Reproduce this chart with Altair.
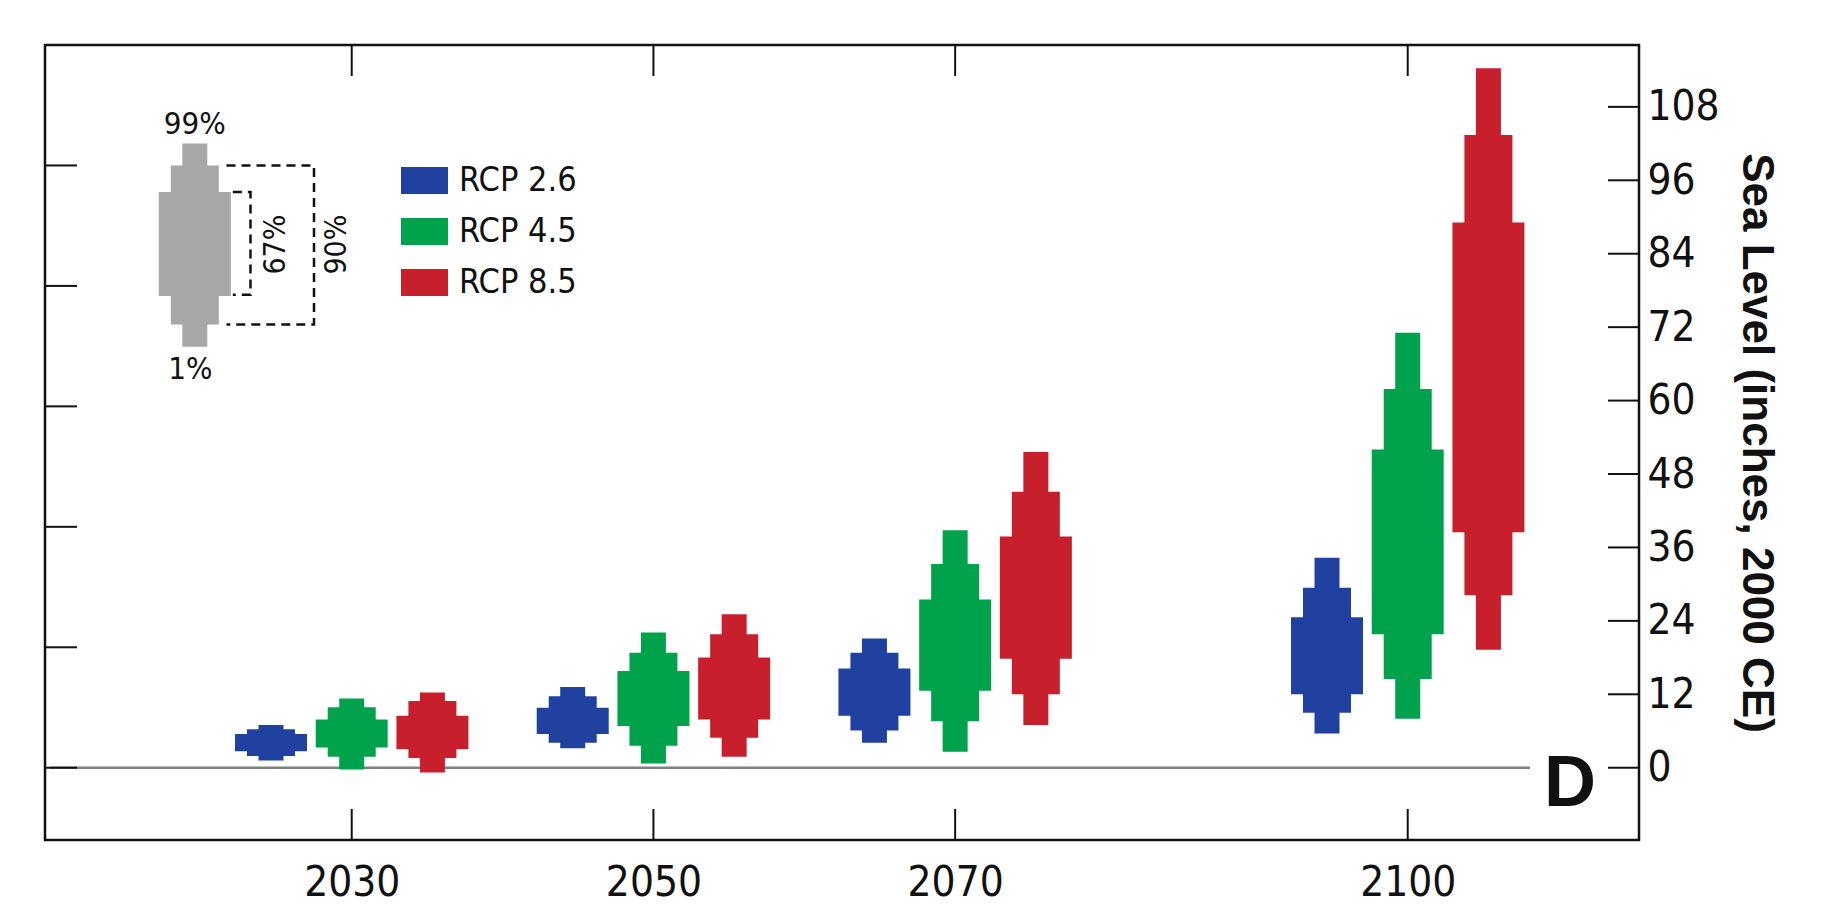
import altair as alt
import pandas as pd

# ---------------- data (inches, relative to 2000 CE) ----------------
years = [2030, 2050, 2070, 2100]
series = ["RCP 2.6", "RCP 4.5", "RCP 8.5"]
colors = ["#2141a0", "#00a24b", "#c81f2d"]

# percentiles per scenario, one value per year
rcp26_p1 = [1.2, 3.2, 4.1, 5.6]
rcp26_p5 = [1.9, 4.1, 6.1, 9.0]
rcp26_p17 = [2.7, 5.5, 8.5, 12.0]
rcp26_p83 = [5.5, 9.8, 16.2, 24.6]
rcp26_p95 = [6.3, 11.7, 18.8, 29.4]
rcp26_p99 = [7.0, 13.2, 21.1, 34.3]

rcp45_p1 = [-0.3, 0.7, 2.6, 8.0]
rcp45_p5 = [1.8, 3.6, 7.6, 14.5]
rcp45_p17 = [3.3, 6.8, 12.6, 21.8]
rcp45_p83 = [7.9, 15.8, 27.5, 52.0]
rcp45_p95 = [9.9, 18.8, 33.3, 61.9]
rcp45_p99 = [11.3, 22.1, 38.8, 71.1]

rcp85_p1 = [-0.8, 1.8, 7.0, 19.3]
rcp85_p5 = [1.6, 4.9, 12.0, 28.2]
rcp85_p17 = [3.0, 7.9, 17.8, 38.5]
rcp85_p83 = [8.5, 18.0, 37.8, 89.1]
rcp85_p95 = [10.9, 21.8, 45.1, 103.4]
rcp85_p99 = [12.3, 25.1, 51.6, 114.3]

# key glyph (illustrative)
key_year = 2019.6
key_vals = [68.8, 72.45, 77.1, 94.07, 98.4, 102.0]  # 1,5,17,83,95,99

y_ticks = [0, 12, 24, 36, 48, 60, 72, 84, 96, 108]
cm_ticks = [0, 50, 100, 150, 200, 250]

levels = ["narrow", "medium", "wide"]   # 1-99, 5-95, 17-83
level_widths = [25, 48, 72]

# ---------------- build tables ----------------
OFFSET = 5.35
pct = {
    "RCP 2.6": [rcp26_p1, rcp26_p5, rcp26_p17, rcp26_p83, rcp26_p95, rcp26_p99],
    "RCP 4.5": [rcp45_p1, rcp45_p5, rcp45_p17, rcp45_p83, rcp45_p95, rcp45_p99],
    "RCP 8.5": [rcp85_p1, rcp85_p5, rcp85_p17, rcp85_p83, rcp85_p95, rcp85_p99],
}
rows = []
for si, s in enumerate(series):
    p = pct[s]
    for j, yr in enumerate(years):
        xpos = yr + (si - 1) * OFFSET
        for li, lv in enumerate(levels):
            rows.append({"series": s, "x": xpos, "level": lv,
                         "lo": p[li][j], "hi": p[5 - li][j]})
df = pd.DataFrame(rows)

key_df = pd.DataFrame([
    {"x": key_year, "level": lv, "lo": key_vals[li], "hi": key_vals[5 - li]}
    for li, lv in enumerate(levels)
])

W, H = 1594, 795
FONT = "DejaVu Sans Condensed, Liberation Sans, sans-serif"
BFONT = "Liberation Sans, Arial, sans-serif"
INK = "#111111"

xscale = alt.Scale(domain=[2010, 2115], nice=False, zero=False)
yscale = alt.Scale(domain=[-30 / 2.54, 300 / 2.54], nice=False, zero=False)
cscale = alt.Scale(domain=series, range=colors)

# zero line (also carries the axes)
zero = alt.Chart(pd.DataFrame({"x": [2010], "x2": [2108.1], "y": [0]})).mark_rule(
    color="#808080", strokeWidth=2.5
).encode(
    x=alt.X("x:Q", scale=xscale,
            axis=alt.Axis(values=years, format="d", ticks=False, tickSize=0, domain=False,
                          grid=False, labelFontSize=42, labelFont=FONT, labelPadding=22,
                          labelColor=INK, title=None)),
    x2="x2:Q",
    y=alt.Y("y:Q", scale=yscale,
            axis=alt.Axis(values=y_ticks, orient="right", ticks=False, tickSize=0,
                          domain=False, grid=False, labelFontSize=42, labelFont=FONT,
                          labelPadding=8, labelColor=INK,
                          title="Sea Level (inches, 2000 CE)", titleFontSize=44,
                          titleFont=BFONT, titleFontWeight="bold", titlePadding=14,
                          titleColor=INK)),
)

legend = alt.Legend(title=None, orient="none", legendX=356, legendY=112,
                    symbolType="M-1,-0.57H1V0.57H-1Z", symbolSize=2209,
                    symbolStrokeWidth=0, labelFontSize=34, labelFont=FONT,
                    labelOffset=11, rowPadding=10, padding=0, labelColor=INK)

bar_layers = []
for li, lv in enumerate(levels):
    bar_layers.append(
        alt.Chart(df).transform_filter(alt.datum.level == lv).mark_bar(
            size=level_widths[li], opacity=1
        ).encode(
            x=alt.X("x:Q", scale=xscale),
            y=alt.Y("lo:Q", scale=yscale),
            y2="hi:Q",
            color=alt.Color("series:N", scale=cscale,
                            legend=legend if li == 0 else None),
        )
    )
    bar_layers.append(
        alt.Chart(key_df).transform_filter(alt.datum.level == lv).mark_bar(
            size=level_widths[li], color="#a7a7a7", opacity=1
        ).encode(
            x=alt.X("x:Q", scale=xscale),
            y=alt.Y("lo:Q", scale=yscale),
            y2="hi:Q",
        )
    )

# dashed brackets of the key
br_rows = []
for name, x0, x1, ylo, yhi in [("b67", 2022.12, 2023.29, 77.3, 94.07),
                               ("b90", 2021.7, 2027.5, 72.45, 98.4)]:
    for k, (xx, yy) in enumerate([(x0, yhi), (x1, yhi), (x1, ylo), (x0, ylo)]):
        br_rows.append({"b": name, "o": k, "x": xx, "y": yy})
brackets = alt.Chart(pd.DataFrame(br_rows)).mark_line(
    color=INK, strokeWidth=2.5, strokeDash=[9, 6]
).encode(
    x=alt.X("x:Q", scale=xscale), y=alt.Y("y:Q", scale=yscale),
    detail="b:N", order="o:Q",
)

t99 = alt.Chart(pd.DataFrame({"x": [key_year], "y": [key_vals[5]], "t": ["99%"]})).mark_text(
    fontSize=31, font=FONT, baseline="bottom", align="center", dy=-3, color=INK
).encode(x=alt.X("x:Q", scale=xscale), y=alt.Y("y:Q", scale=yscale), text="t:N")
t1 = alt.Chart(pd.DataFrame({"x": [key_year - 0.3], "y": [key_vals[0]], "t": ["1%"]})).mark_text(
    fontSize=31, font=FONT, baseline="top", align="center", dy=8, color=INK
).encode(x=alt.X("x:Q", scale=xscale), y=alt.Y("y:Q", scale=yscale), text="t:N")
tpct = alt.Chart(pd.DataFrame({"x": [2025.0, 2029.0], "y": [85.5, 85.5],
                               "t": ["67%", "90%"]})).mark_text(
    fontSize=30, font=FONT, baseline="middle", align="center", angle=270, color=INK
).encode(x=alt.X("x:Q", scale=xscale), y=alt.Y("y:Q", scale=yscale), text="t:N")

# inward ticks
bottom_ticks = alt.Chart(pd.DataFrame({"x": years})).mark_rule(color=INK, strokeWidth=2).encode(
    x=alt.X("x:Q", scale=xscale), y=alt.value(H), y2=alt.value(H - 31))
top_ticks = alt.Chart(pd.DataFrame({"x": years})).mark_rule(color=INK, strokeWidth=2).encode(
    x=alt.X("x:Q", scale=xscale), y=alt.value(0), y2=alt.value(31))
right_ticks = alt.Chart(pd.DataFrame({"y": y_ticks})).mark_rule(color=INK, strokeWidth=2).encode(
    y=alt.Y("y:Q", scale=yscale), x=alt.value(W), x2=alt.value(W - 31))
left_ticks = alt.Chart(pd.DataFrame({"y": [c / 2.54 for c in cm_ticks]})).mark_rule(
    color=INK, strokeWidth=2).encode(
    y=alt.Y("y:Q", scale=yscale), x=alt.value(0), x2=alt.value(32))

panel = alt.Chart(pd.DataFrame({"t": ["D"]})).mark_text(
    fontSize=72, font=BFONT, fontWeight="bold",
    align="center", baseline="middle", color=INK
).encode(x=alt.value(1525), y=alt.value(739), text="t:N")

chart = alt.layer(
    zero, *bar_layers, brackets, t99, t1, tpct,
    bottom_ticks, top_ticks, right_ticks, left_ticks, panel
).properties(
    width=W, height=H,
    padding={"left": 36, "top": 36, "right": 5, "bottom": 5},
).configure(
    background="white",
    view=alt.ViewConfig(stroke=INK, strokeWidth=2.5),
)

chart.save("out.html", embed_options={"renderer": "svg", "actions": False})
